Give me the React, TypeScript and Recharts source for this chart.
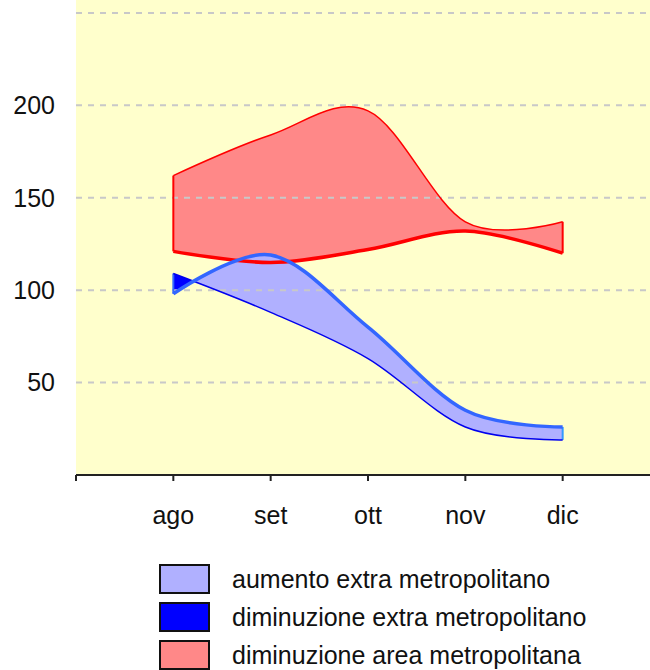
import {
  ComposedChart,
  Area,
  Line,
  XAxis,
  YAxis,
  CartesianGrid,
  ReferenceLine,
} from "recharts";

// mesi sull'asse x
const months = ["ago", "set", "ott", "nov", "dic"];

// area metropolitana (rosso)
const redUpper = [162, 184, 197, 137, 137];
const redLower = [121, 115, 122, 132, 120];

// extra metropolitano (blu)
const blueUpper = [98, 119, 80, 35, 26];
const blueLower = [109, 88, 63, 26, 19];

const yTicks = [50, 100, 150, 200];
const gridValues = [50, 100, 150, 200, 250];
const xTicks = [0, 1, 2, 3, 4, 5, 6];

const legendLabels = [
  "aumento extra metropolitano",
  "diminuzione extra metropolitano",
  "diminuzione area metropolitana",
];

const chartData = months.map((m, i) => ({
  x: i + 1,
  month: m,
  redUpper: redUpper[i],
  redLower: redLower[i],
  blueUpper: blueUpper[i],
  blueLower: blueLower[i],
  redRange: [redLower[i], redUpper[i]],
  blueRange: [blueLower[i], blueUpper[i]],
}));

const FONT = '"Liberation Sans", Arial, sans-serif';
const legendColors = ["#b0b0ff", "#0000ff", "#ff8888"];
const last = months.length - 1;

// spline cardinale (tensione 0, come catmull-rom uniforme) - stessa logica di d3 curveCardinal
class CardinalCurve {
  _context: any;
  _k = 1 / 6;
  _line = NaN;
  _point = 0;
  _x0 = NaN; _x1 = NaN; _x2 = NaN;
  _y0 = NaN; _y1 = NaN; _y2 = NaN;
  constructor(context: any) {
    this._context = context;
  }
  areaStart() { this._line = 0; }
  areaEnd() { this._line = NaN; }
  lineStart() {
    this._x0 = this._x1 = this._x2 = NaN;
    this._y0 = this._y1 = this._y2 = NaN;
    this._point = 0;
  }
  lineEnd() {
    switch (this._point) {
      case 2: this._context.lineTo(this._x2, this._y2); break;
      case 3: this.bez(this._x1, this._y1); break;
    }
    if (this._line || (this._line !== 0 && this._point === 1)) this._context.closePath();
    this._line = 1 - this._line;
  }
  bez(x: number, y: number) {
    const k = this._k;
    this._context.bezierCurveTo(
      this._x1 + k * (this._x2 - this._x0),
      this._y1 + k * (this._y2 - this._y0),
      this._x2 + k * (this._x1 - x),
      this._y2 + k * (this._y1 - y),
      this._x2,
      this._y2
    );
  }
  point(x: number, y: number) {
    x = +x; y = +y;
    switch (this._point) {
      case 0:
        this._point = 1;
        if (this._line) this._context.lineTo(x, y);
        else this._context.moveTo(x, y);
        break;
      case 1:
        this._point = 2;
        this._x1 = x; this._y1 = y;
        break;
      case 2:
        this._point = 3;
        this.bez(x, y);
        break;
      default:
        this.bez(x, y);
        break;
    }
    this._x0 = this._x1; this._x1 = this._x2; this._x2 = x;
    this._y0 = this._y1; this._y1 = this._y2; this._y2 = y;
  }
}
const cardinal: any = (context: any) => new CardinalCurve(context);

export default function App() {
  return (
    <div
      style={{
        position: "fixed",
        left: 0,
        top: 0,
        width: 650,
        height: 670,
        overflow: "hidden",
        background: "#fff",
        fontFamily: FONT,
      }}
    >
      <ComposedChart
        width={660}
        height={670}
        data={chartData}
        margin={{ top: 0, right: 0, left: 0, bottom: 135 }}
      >
        <defs>
          {/* dove la linea spessa sta sotto quella sottile: blu scuro */}
          <linearGradient id="blueFill" x1="0" y1="0" x2="1" y2="0">
            <stop offset="0" stopColor="#0000ff" />
            <stop offset="0.046" stopColor="#0000ff" />
            <stop offset="0.046" stopColor="#b0b0ff" />
            <stop offset="1" stopColor="#b0b0ff" />
          </linearGradient>
        </defs>

        <CartesianGrid horizontal={false} vertical={false} fill="#ffffcc" />

        <XAxis
          type="number"
          dataKey="x"
          domain={[0, 6]}
          ticks={xTicks}
          tickFormatter={(v) => months[v - 1] ?? ""}
          height={60}
          tickSize={6}
          tickMargin={25}
          axisLine={{ stroke: "#222", strokeWidth: 2 }}
          tickLine={{ stroke: "#222", strokeWidth: 2 }}
          tick={{ fontSize: 25, fill: "#111", fontFamily: FONT }}
          allowDataOverflow
        />
        <YAxis
          type="number"
          domain={[0, 257]}
          ticks={yTicks}
          width={76}
          axisLine={false}
          tickLine={false}
          tickSize={0}
          tickMargin={21}
          tick={{ fontSize: 25, fill: "#111", fontFamily: FONT }}
          allowDataOverflow
        />

        <Area
          dataKey="redRange"
          type={cardinal}
          fill="#ff8888"
          fillOpacity={1}
          stroke="none"
          isAnimationActive={false}
        />
        <Area
          dataKey="blueRange"
          type={cardinal}
          fill="url(#blueFill)"
          fillOpacity={1}
          stroke="none"
          isAnimationActive={false}
        />

        {gridValues.map((v) => (
          <ReferenceLine
            key={v}
            y={v}
            stroke="#c8c8c8"
            strokeWidth={2}
            strokeDasharray="6 6"
          />
        ))}

        {/* bordi verticali delle aree */}
        <ReferenceLine
          segment={[
            { x: 1, y: redLower[0] },
            { x: 1, y: redUpper[0] },
          ]}
          stroke="#ff0000"
          strokeWidth={2}
        />
        <ReferenceLine
          segment={[
            { x: last + 1, y: redLower[last] },
            { x: last + 1, y: redUpper[last] },
          ]}
          stroke="#ff0000"
          strokeWidth={2}
        />
        <ReferenceLine
          segment={[
            { x: 1, y: blueUpper[0] },
            { x: 1, y: blueLower[0] },
          ]}
          stroke="#3366ff"
          strokeWidth={2}
        />
        <ReferenceLine
          segment={[
            { x: last + 1, y: blueLower[last] },
            { x: last + 1, y: blueUpper[last] },
          ]}
          stroke="#3399ff"
          strokeWidth={2}
        />

        <Line
          dataKey="redUpper"
          type={cardinal}
          stroke="#ff0000"
          strokeWidth={1.5}
          dot={false}
          isAnimationActive={false}
        />
        <Line
          dataKey="redLower"
          type={cardinal}
          stroke="#ff0000"
          strokeWidth={3.5}
          dot={false}
          isAnimationActive={false}
        />
        <Line
          dataKey="blueLower"
          type={cardinal}
          stroke="#0000ee"
          strokeWidth={1.5}
          dot={false}
          isAnimationActive={false}
        />
        <Line
          dataKey="blueUpper"
          type={cardinal}
          stroke="#3366ff"
          strokeWidth={3.5}
          dot={false}
          isAnimationActive={false}
        />
      </ComposedChart>

      <div style={{ position: "absolute", left: 159, top: 564 }}>
        {legendLabels.map((label, i) => (
          <div
            key={label}
            style={{ display: "flex", alignItems: "center", height: 30, marginBottom: 8 }}
          >
            <div
              style={{
                width: 51,
                height: 30,
                boxSizing: "border-box",
                border: "2px solid #111",
                background: legendColors[i],
              }}
            />
            <span style={{ marginLeft: 22, fontSize: 25, color: "#111", whiteSpace: "nowrap" }}>
              {label}
            </span>
          </div>
        ))}
      </div>
    </div>
  );
}
